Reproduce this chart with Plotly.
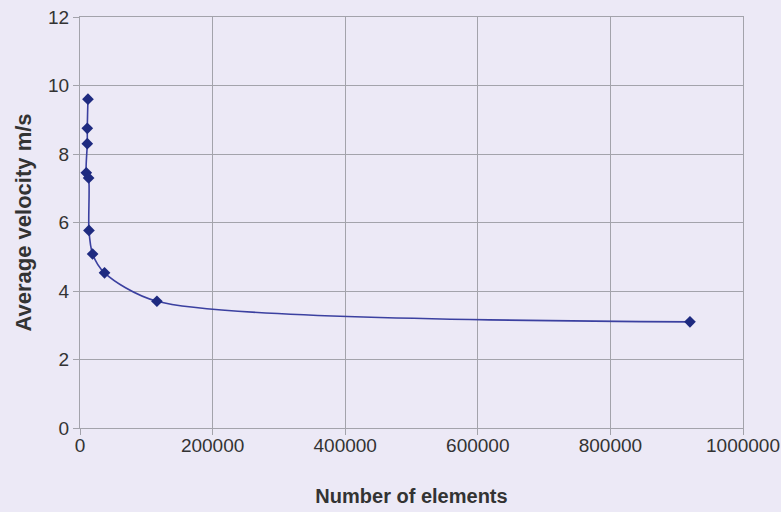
import plotly.graph_objects as go

# Data
num_elements = [12000, 11000, 11000, 9500, 13000, 13500, 19000, 37000, 116000, 920000]
avg_velocity = [9.6, 8.75, 8.3, 7.45, 7.3, 5.77, 5.08, 4.53, 3.7, 3.1]

x_ticks = [0, 200000, 400000, 600000, 800000, 1000000]
y_ticks = [0, 2, 4, 6, 8, 10, 12]

bg = "#ece9f6"
grid = "#a3a3ab"

fig = go.Figure()
fig.add_trace(go.Scatter(
    x=num_elements, y=avg_velocity,
    mode="lines+markers",
    line=dict(color="#3b40a0", width=1.6, shape="spline", smoothing=0.8),
    marker=dict(symbol="diamond", size=9, color="#1e2a80"),
    showlegend=False,
))

tick_font = dict(family="Liberation Sans, Arial, sans-serif", size=19, color="#333333")

fig.update_layout(
    width=781, height=512,
    margin=dict(l=80, r=38, t=17, b=84),
    paper_bgcolor=bg, plot_bgcolor=bg,
    xaxis=dict(
        range=[0, 1000000], tickvals=x_ticks, ticktext=[str(v) for v in x_ticks],
        automargin=False,
        showgrid=True, gridcolor=grid, gridwidth=1,
        showline=True, linecolor=grid, mirror=True,
        ticks="outside", ticklen=6, tickcolor=grid,
        ticklabelstandoff=-6,
        tickfont=tick_font, zeroline=False,
        title=dict(text="<b>Number of elements</b>",
                   font=dict(family="Liberation Sans, Arial, sans-serif", size=20, color="#333333"),
                   standoff=34),
    ),
    yaxis=dict(
        range=[0, 12], tickvals=y_ticks,
        automargin=False,
        showgrid=True, gridcolor=grid, gridwidth=1,
        showline=True, linecolor=grid, mirror=True,
        ticks="outside", ticklen=6, tickcolor=grid,
        tickfont=tick_font, zeroline=False,
        title=dict(text="<b>Average velocity m/s</b>",
                   font=dict(family="Liberation Sans, Arial, sans-serif", size=22, color="#333333"),
                   standoff=10),
    ),
)

fig.write_html("out.html", config={"displayModeBar": False},
               post_script="document.body.style.margin='0';document.body.style.background='%s';" % bg)
